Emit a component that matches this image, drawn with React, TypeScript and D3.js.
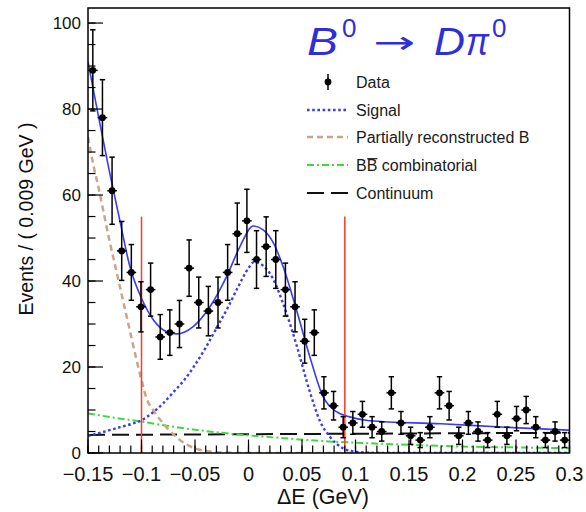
import React from 'react';
import * as d3 from 'd3';

// Histogram binning (ΔE in GeV)
const binLow = -0.15;
const binWidth = 0.009;
const counts = [
  89, 78, 61, 47, 42, 34, 38, 27, 28, 30,
  43, 35, 33, 35, 42, 51, 54, 45, 48, 45,
  38, 34, 26, 28, 14, 11, 6, 7, 9, 6,
  5, 14, 7, 4, 3, 6, 14, 11, 4, 7,
  5, 3, 9, 4, 8, 10, 6, 3, 5, 3,
];

// Fit components, sampled along ΔE
const totalX = [-0.15, -0.14, -0.13, -0.12, -0.111, -0.1, -0.089, -0.0765, -0.067, -0.0517, -0.036, -0.0205, -0.008, 0.0044, 0.0137, 0.023, 0.0324, 0.0448, 0.0573, 0.0697, 0.0822, 0.0946, 0.113, 0.18, 0.24, 0.3];
const totalY = [91, 78, 65.5, 53.8, 43.5, 36, 31, 28.2, 27.7, 29.4, 34, 41, 48, 52.8, 51.9, 49, 43.3, 33.3, 22.4, 13.1, 9.6, 8.4, 7.5, 6.8, 6, 5.3];

const signalX = [-0.15, -0.14, -0.13, -0.12, -0.11, -0.1, -0.09, -0.08, -0.07, -0.06, -0.05, -0.04, -0.03, -0.02, -0.01, 0, 0.005, 0.014, 0.023, 0.032, 0.045, 0.057, 0.067, 0.076, 0.082, 0.095, 0.11, 0.13, 0.3];
const signalY = [4, 4.6, 5.3, 6, 6.7, 7.6, 9.3, 11.5, 14.2, 17, 20.5, 24.5, 29, 33.5, 38.5, 43, 44.4, 43.5, 40.5, 35, 25, 14.5, 7.3, 3.8, 2.2, 0.5, 0.1, 0, 0];

const partialX = [-0.15, -0.145, -0.14, -0.135, -0.13, -0.125, -0.12, -0.115, -0.11, -0.105, -0.1, -0.095, -0.09, -0.085, -0.08, -0.075, -0.07, -0.065, -0.06, -0.055, -0.05, -0.045, -0.04, -0.03, -0.02, 0, 0.3];
const partialY = [73.5, 67, 61.5, 55.5, 49.5, 44, 38.5, 33, 27.5, 22, 17, 12.5, 10.3, 8.5, 7, 5.5, 4.3, 3.2, 2.3, 1.6, 1.1, 0.7, 0.45, 0.2, 0.05, 0, 0];

const combX = [-0.15, -0.125, -0.1, -0.075, -0.05, -0.025, 0, 0.025, 0.05, 0.075, 0.1, 0.15, 0.2, 0.25, 0.3];
const combY = [9.2, 8.2, 7.3, 6.3, 5.4, 4.7, 4.1, 3.6, 3.1, 2.7, 2.4, 1.9, 1.5, 1.3, 1.1];

const contX = [-0.15, 0.3];
const contY = [4.2, 4.7];

// Signal-window boundaries
const windowEdges = [-0.1, 0.09];
const windowTop = 55;

const xTicks = [-0.15, -0.1, -0.05, 0, 0.05, 0.1, 0.15, 0.2, 0.25, 0.3];
const xTickLabels = ['\u22120.15', '\u22120.1', '\u22120.05', '0', '0.05', '0.1', '0.15', '0.2', '0.25', '0.3'];
const yTicks = [0, 20, 40, 60, 80, 100];
const yTickLabels = ['0', '20', '40', '60', '80', '100'];

const W = 586;
const H = 512;
const left = 88;
const right = 569.5;
const top = 8;
const bottom = 453;

const FONT = '"Liberation Sans", Arial, Helvetica, sans-serif';
const BLUE = '#3b3bf0';
const BROWN = '#c9a58a';
const GREEN = '#3fd93f';
const RED = '#ff3a24';
const TITLE = '#2f2fd8';

export default function App() {
  const x = d3.scaleLinear().domain([-0.15, 0.3]).range([left, right]);
  const y = d3.scaleLinear().domain([0, 103.5]).range([bottom, top]);

  const mkLine = (xs: number[], ys: number[]) =>
    d3
      .line<number>()
      .x((_, i) => x(xs[i]))
      .y((d) => y(d))
      .curve(d3.curveMonotoneX)(ys) as string;

  const xMinor = d3.range(0, 46).map((i) => -0.15 + i * 0.01);
  const yMinor = d3.range(0, 21).map((i) => i * 5);

  const bins = counts.map((n, i) => {
    const lo = binLow + i * binWidth;
    return { n, lo, hi: lo + binWidth, c: lo + binWidth / 2, e: Math.sqrt(n) };
  });

  const legendX0 = 307;
  const legendX1 = 348;
  const textX = 356;
  const legendRows = [82, 110, 137, 165, 193];

  return (
    <svg
      width={W}
      height={H}
      style={{ position: 'absolute', left: 0, top: 0, background: '#fff' }}
      fontFamily={FONT}
    >
      <defs>
        <clipPath id="plotArea">
          <rect x={left} y={top} width={right - left} height={bottom - top} />
        </clipPath>
      </defs>

      {/* fit components */}
      <g clipPath="url(#plotArea)" fill="none">
        <path d={mkLine(contX, contY)} stroke="#111" strokeWidth={2} strokeDasharray="17,7" />
        <path d={mkLine(combX, combY)} stroke={GREEN} strokeWidth={2} strokeDasharray="7,3,2,3" />
        <path d={mkLine(partialX, partialY)} stroke={BROWN} strokeWidth={2.5} strokeDasharray="6,4" />
        <path d={mkLine(signalX, signalY)} stroke={BLUE} strokeWidth={2.4} strokeDasharray="2.6,2.6" />
        <path d={mkLine(totalX, totalY)} stroke={BLUE} strokeWidth={1.6} />
      </g>

      {/* signal window */}
      {windowEdges.map((v) => (
        <line key={v} x1={x(v)} x2={x(v)} y1={y(0)} y2={y(windowTop)} stroke={RED} strokeWidth={1.5} />
      ))}

      {/* data points */}
      <g stroke="#000" strokeWidth={1.5}>
        {bins.map((b, i) => (
          <g key={i}>
            <line x1={x(b.lo)} x2={x(b.hi)} y1={y(b.n)} y2={y(b.n)} />
            <line x1={x(b.c)} x2={x(b.c)} y1={y(b.n - b.e)} y2={y(b.n + b.e)} />
            <line x1={x(b.c) - 2.7} x2={x(b.c) + 2.7} y1={y(b.n - b.e)} y2={y(b.n - b.e)} />
            <line x1={x(b.c) - 2.7} x2={x(b.c) + 2.7} y1={y(b.n + b.e)} y2={y(b.n + b.e)} />
            <circle cx={x(b.c)} cy={y(b.n)} r={3.4} fill="#000" stroke="none" />
          </g>
        ))}
      </g>

      {/* frame */}
      <rect x={left} y={top} width={right - left} height={bottom - top} fill="none" stroke="#000" strokeWidth={1.5} />

      {/* ticks */}
      <g stroke="#000" strokeWidth={1.2}>
        {xMinor.map((v, i) => (
          <line key={i} x1={x(v)} x2={x(v)} y1={bottom} y2={bottom - 7.5} />
        ))}
        {xTicks.map((v, i) => (
          <line key={'M' + i} x1={x(v)} x2={x(v)} y1={bottom} y2={bottom - 13.5} />
        ))}
        {yMinor.map((v, i) => (
          <line key={'y' + i} x1={left} x2={left + 7.5} y1={y(v)} y2={y(v)} />
        ))}
        {yTicks.map((v, i) => (
          <line key={'Y' + i} x1={left} x2={left + 15} y1={y(v)} y2={y(v)} />
        ))}
      </g>

      {/* tick labels */}
      <g fill="#111" fontSize={20} textAnchor="middle">
        {xTicks.map((v, i) => (
          <text key={i} x={x(v)} y={481}>
            {xTickLabels[i]}
          </text>
        ))}
      </g>
      <g fill="#111" fontSize={17} textAnchor="end">
        {yTicks.map((v, i) => (
          <text key={i} x={81} y={y(v) + 6}>
            {yTickLabels[i]}
          </text>
        ))}
      </g>

      {/* axis titles */}
      <text x={323} y={504} fontSize={21.5} textAnchor="middle" fill="#111">
        ΔE (GeV)
      </text>
      <text
        transform="translate(33,219) rotate(-90)"
        fontSize={19.5}
        textAnchor="middle"
        fill="#111"
      >
        Events / ( 0.009 GeV )
      </text>

      {/* decay title */}
      <g fill={TITLE}>
        <text x={307} y={55} fontSize={38} fontStyle="italic" textLength={31} lengthAdjust="spacingAndGlyphs">B</text>
        <text x={342} y={37} fontSize={26}>0</text>
        <text x={373} y={53} fontSize={31} fontFamily='"DejaVu Sans", sans-serif' textLength={42} lengthAdjust="spacingAndGlyphs">→</text>
        <text x={434} y={55} fontSize={38} fontStyle="italic" textLength={31} lengthAdjust="spacingAndGlyphs">D</text>
        <text x={466} y={55} fontSize={38} fontStyle="italic" textLength={23} lengthAdjust="spacingAndGlyphs">π</text>
        <text x={492} y={37} fontSize={26}>0</text>
      </g>

      {/* legend */}
      <g>
        <line x1={328} x2={328} y1={legendRows[0] - 8} y2={legendRows[0] + 8} stroke="#000" strokeWidth={1.5} />
        <circle cx={328} cy={legendRows[0]} r={3.4} fill="#000" />
        <line x1={legendX0} x2={legendX1} y1={legendRows[1]} y2={legendRows[1]} stroke={BLUE} strokeWidth={2.4} strokeDasharray="2.6,2.6" />
        <line x1={legendX0} x2={legendX1} y1={legendRows[2]} y2={legendRows[2]} stroke={BROWN} strokeWidth={2.5} strokeDasharray="6,4" />
        <line x1={legendX0} x2={legendX1} y1={legendRows[3]} y2={legendRows[3]} stroke={GREEN} strokeWidth={2} strokeDasharray="7,3,2,3" />
        <line x1={legendX0} x2={legendX1} y1={legendRows[4]} y2={legendRows[4]} stroke="#111" strokeWidth={2} strokeDasharray="17,7" />
        <g fontSize={16} fill="#1a1a1a">
          <text x={textX} y={legendRows[0] + 5.7}>Data</text>
          <text x={textX} y={legendRows[1] + 5.7}>Signal</text>
          <text x={textX} y={legendRows[2] + 5.7}>Partially reconstructed B</text>
          <text x={textX} y={legendRows[3] + 5.7}>BB combinatorial</text>
          <text x={textX} y={legendRows[4] + 5.7}>Continuum</text>
        </g>
        <line x1={textX + 11.2} x2={textX + 21.4} y1={legendRows[3] - 6.3} y2={legendRows[3] - 6.3} stroke="#1a1a1a" strokeWidth={1.2} />
      </g>
    </svg>
  );
}
